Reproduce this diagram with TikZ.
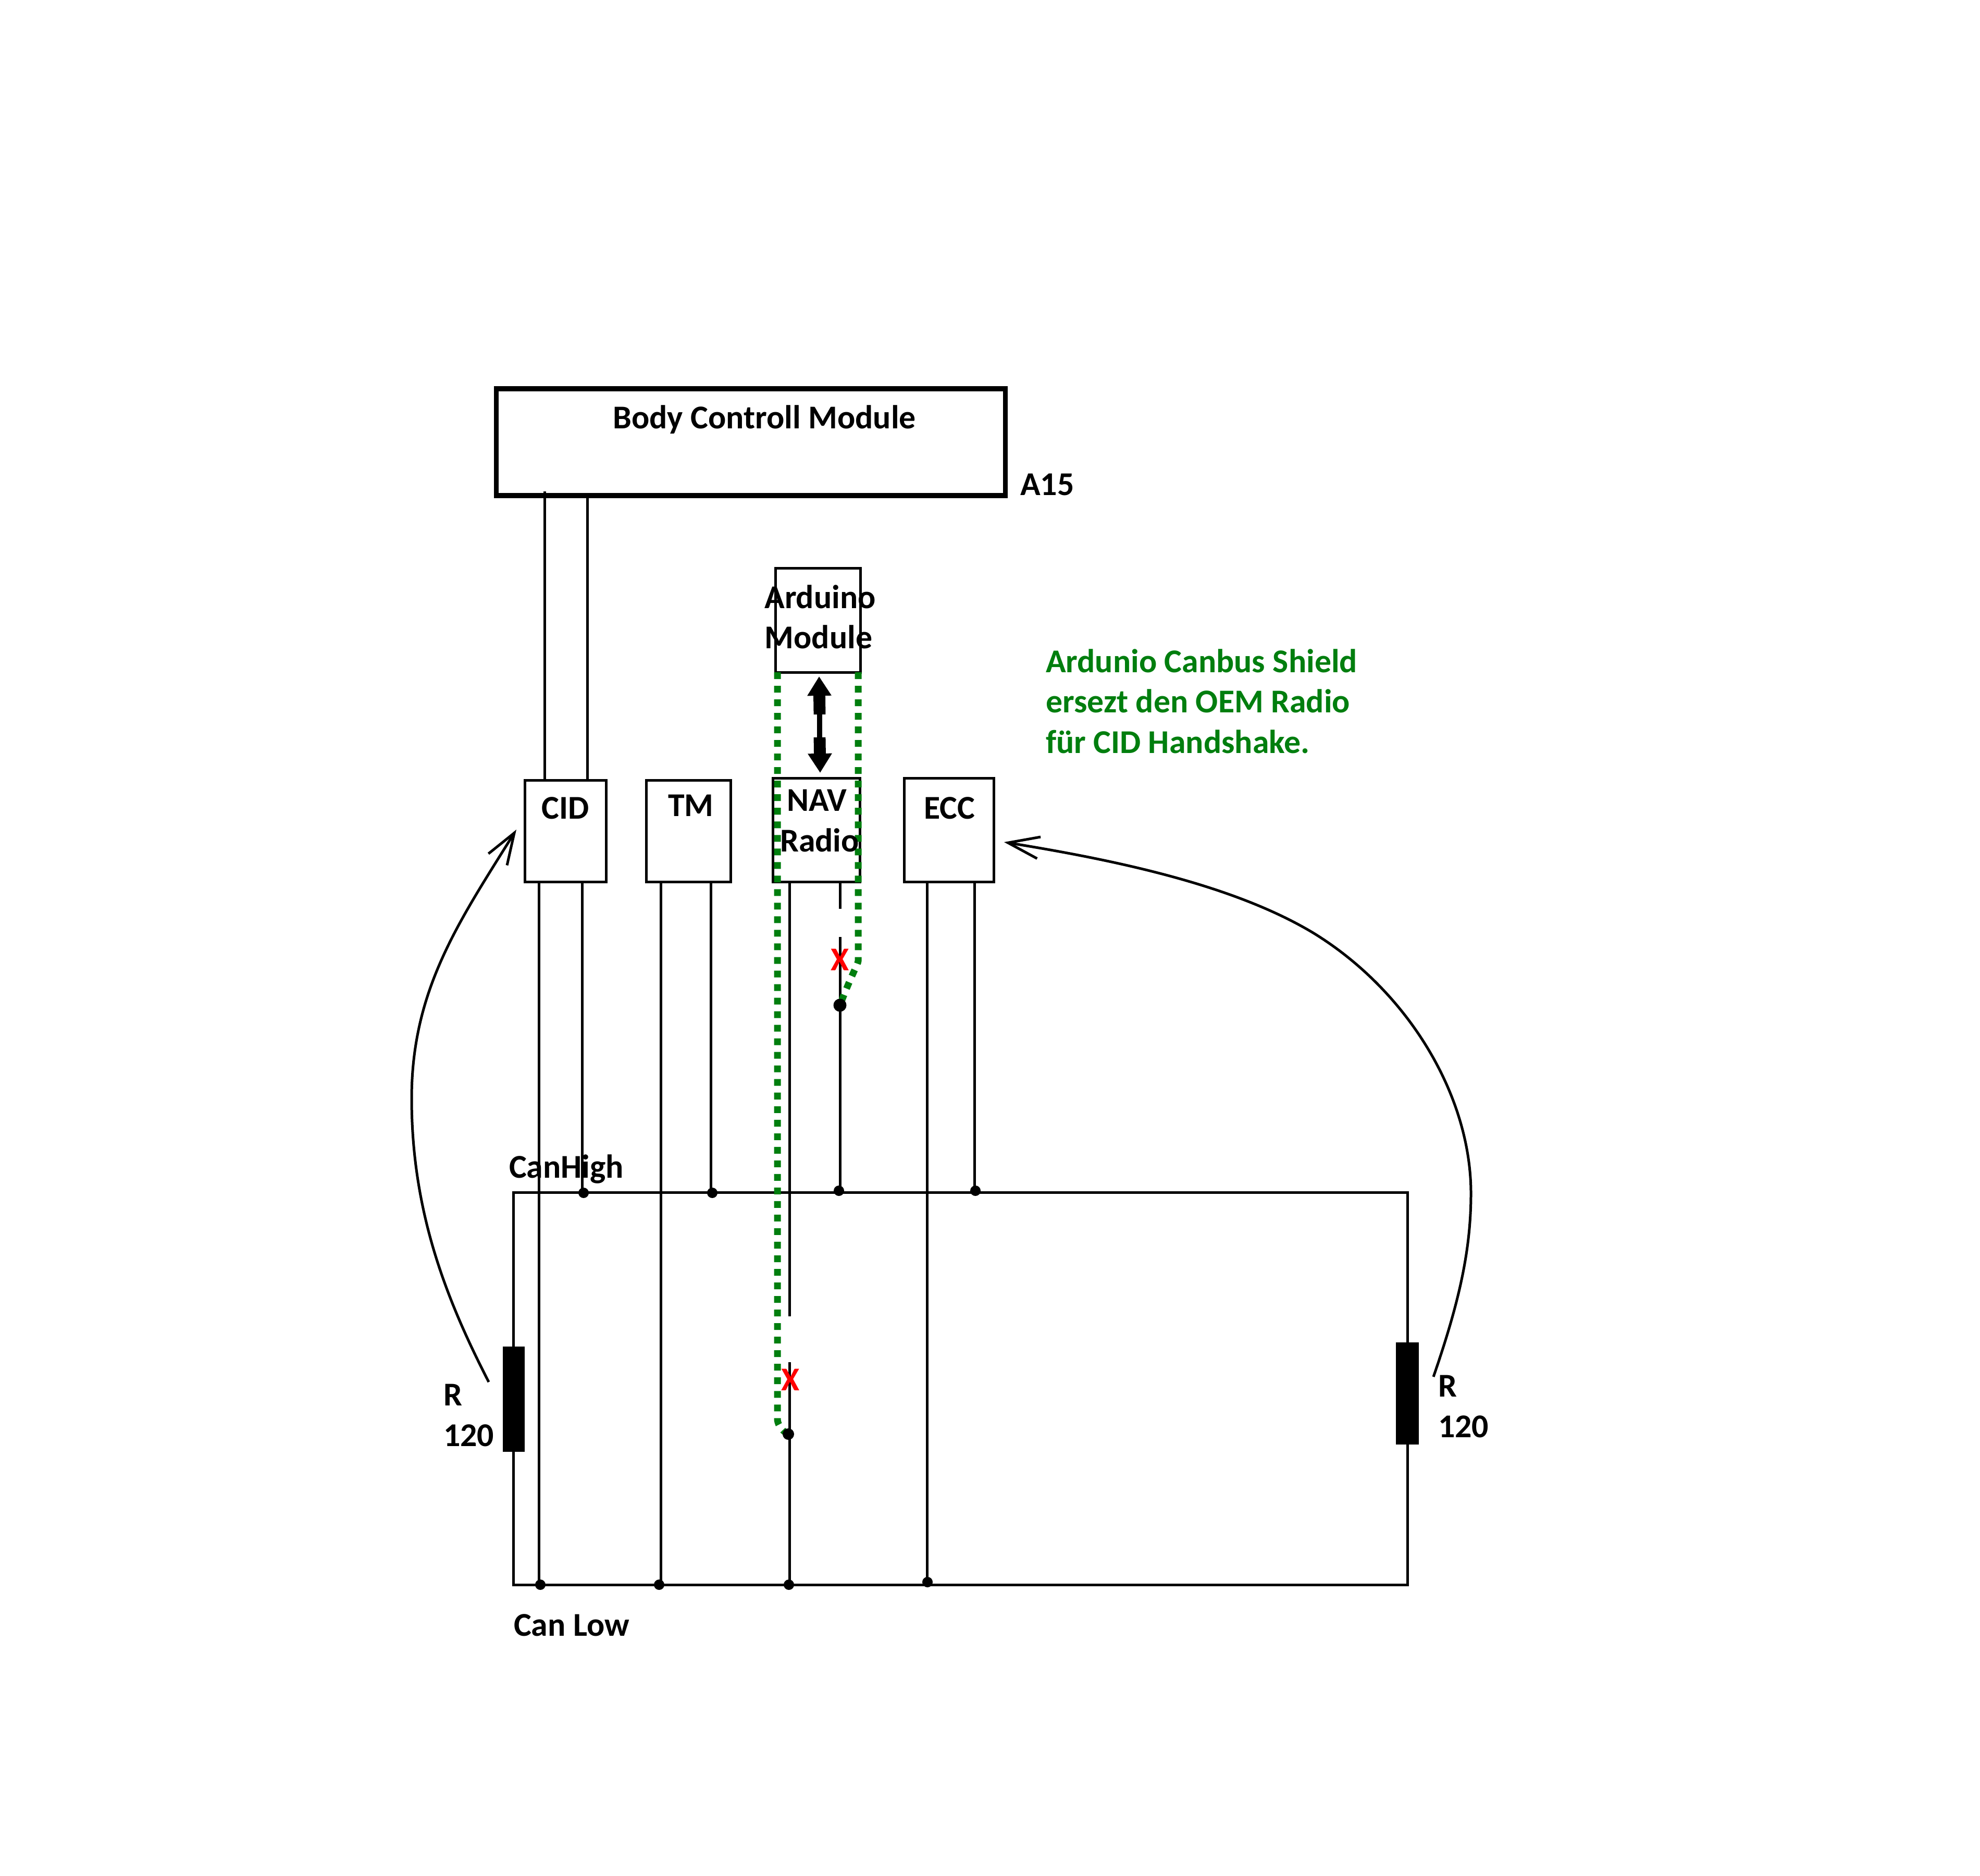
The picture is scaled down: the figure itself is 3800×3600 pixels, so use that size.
\documentclass[tikz,border=0pt]{standalone}
\usepackage{fontspec}
\setmainfont{Carlito}
\usetikzlibrary{arrows.meta}

\definecolor{shieldgreen}{RGB}{0,126,14}
\tikzset{
  wire/.style={line width=1.42pt},
  modbox/.style={draw, line width=1.42pt, inner sep=0pt, outer sep=0pt},
  dot/.style={circle, fill=black, inner sep=0pt, outer sep=0pt, minimum size=0.2cm},
  bigdot/.style={circle, fill=black, inner sep=0pt, outer sep=0pt, minimum size=0.25cm},
  resistor/.style={fill=black, inner sep=0pt, outer sep=0pt},
  txt/.style={inner sep=0pt, outer sep=0pt, font=\fontsize{18.15}{22}\selectfont\bfseries, anchor=base},
  txtl/.style={txt, anchor=base west},
  redx/.style={txt, text=red},
  shield/.style={draw=shieldgreen, line width=3.7pt, dash pattern=on 3.7pt off 3.7pt},
  curvearrow/.style={line width=1.42pt, -{Straight Barb[length=6mm, width=4.2mm, line width=1.42pt]}},
  fat/.style={line width=6.5pt, -{Triangle[length=3.7mm, width=4.4mm]}}
}

\begin{document}
\begin{tikzpicture}[x=0.01cm, y=-0.01cm]
  \useasboundingbox (0,0) rectangle (3800,3600);
  \node[modbox, line width=2.6pt, minimum width=9.76cm, minimum height=2.05cm] (bcm) at (1441,848.5) {};
  \node[modbox, minimum width=1.62cm, minimum height=1.99cm] (arduino) at (1570,1190.5) {};
  \node[modbox, minimum width=1.55cm, minimum height=1.94cm] (cid) at (1085.5,1595) {};
  \node[modbox, minimum width=1.61cm, minimum height=1.94cm] (tm) at (1321.5,1595) {};
  \node[modbox, minimum width=1.66cm, minimum height=1.98cm] (nav) at (1567,1593) {};
  \node[modbox, minimum width=1.71cm, minimum height=1.98cm] (ecc) at (1821.5,1593) {};
  \node[modbox, minimum width=17.15cm, minimum height=7.52cm] (bus) at (1843.5,2665) {};
  \node[resistor, minimum width=0.42cm, minimum height=2.01cm] (rleft) at (986,2685) {};
  \node[resistor, minimum width=0.44cm, minimum height=1.96cm] (rright) at (2701,2674) {};

  \node[dot] (hcid) at (1120,2289) {};
  \node[dot] (htm) at (1367,2289) {};
  \node[dot] (hnav) at (1610,2285) {};
  \node[dot] (hecc) at (1872,2285) {};
  \node[dot] (lcid) at (1037,3041) {};
  \node[dot] (ltm) at (1265,3041) {};
  \node[dot] (lnav) at (1514,3041) {};
  \node[dot] (lecc) at (1780,3036) {};

  \coordinate (bcma) at (1045,943);
  \coordinate (bcmb) at (1127,950);
  \coordinate (cidl) at (1034,1690);
  \coordinate (cidh) at (1117,1692);
  \coordinate (tml) at (1268,1692);
  \coordinate (tmh) at (1364,1692);
  \coordinate (navl) at (1515,1690);
  \coordinate (navlcut) at (1515,2526);
  \coordinate (navlend) at (1515,2614);
  \coordinate (navh) at (1612,1692);
  \coordinate (navhcut) at (1612,1744);
  \coordinate (navhend) at (1612,1798);
  \coordinate (eccl) at (1779,1690);
  \coordinate (ecch) at (1870,1692);
  \draw[wire] (bcma) -- (bcma |- cid.north)
  (bcmb) -- (bcmb |- cid.north)
  (cidl) -- (cidl |- lcid)
  (cidh) -- (cidh |- hcid)
  (tml) -- (tml |- ltm)
  (tmh) -- (tmh |- htm)
  (navl) -- (navlcut)
  (navlend) -- (navlend |- lnav)
  (navh) -- (navhcut)
  (navhend) -- (navhend |- hnav)
  (eccl) -- (eccl |- lecc)
  (ecch) -- (ecch |- hecc);

  \coordinate (shielda) at (1492,1290);
  \coordinate (shieldb) at (1647,1290);
  \coordinate (tapaend) at (1612,1929);
  \coordinate (tapbend) at (1513,2752);
  \draw[shield] (shielda) -- (1492,2723) .. controls (1492,2730) and (1497,2744) .. (tapbend);
  \draw[shield] (shieldb) -- (1647,1844) .. controls (1646,1852) and (1636,1866) .. (tapaend);

  \node[bigdot] (tapa) at (tapaend) {};
  \node[dot, minimum size=0.22cm] (tapb) at (tapbend) {};

  \coordinate (arrowtop) at (1572,1298);
  \coordinate (arrowbot) at (1574,1483);
  \coordinate (arrowa) at (1573,1371);
  \coordinate (arrowb) at (1573,1415);
  \draw[fat] (arrowa) -- (arrowtop);
  \draw[fat] (arrowb) -- (arrowbot);
  \draw[line width=3.1pt] (arrowa) -- (arrowb);

  \coordinate (curveastart) at (938,2652);
  \coordinate (curveaend) at (991,1592);
  \coordinate (curvebstart) at (2751,2642);
  \coordinate (curvebend) at (1927,1616);
  \draw[curvearrow] (curveastart) .. controls (860,2500) and (790,2330) .. (790,2108)
  .. controls (790,1900) and (880,1770) .. (curveaend);
  \draw[curvearrow] (curvebstart) .. controls (2800,2500) and (2823,2400) .. (2823,2290)
  .. controls (2823,2100) and (2700,1900) .. (2520,1790)
  .. controls (2370,1700) and (2150,1652) .. (curvebend);

  \node[txt] (bcmtext) at (1467,822) {Body Controll Module};
  \node[txtl] (a15) at (1958,950) {A15};
  \node[txt] (arduinoa) at (1574,1167) {Arduino};
  \node[txt] (arduinob) at (1571,1244) {Module};
  \node[txt] (navtext) at (1568,1556) {NAV};
  \node[txt] (radiotext) at (1573,1634) {Radio};
  \node[txt] (cidtext) at (1085,1571) {CID};
  \node[txt] (tmtext) at (1326,1566) {TM};
  \node[txt] (ecctext) at (1822,1571) {ECC};
  \node[txtl, text=shieldgreen] (greena) at (2007,1290) {Ardunio Canbus Shield};
  \node[txtl, text=shieldgreen] (greenb) at (2007,1367) {ersezt den OEM Radio};
  \node[txtl, text=shieldgreen] (greenc) at (2007,1445) {für CID Handshake.};
  \node[txtl] (canhigh) at (977,2260) {CanHigh};
  \node[txtl] (canlow) at (986,3139) {Can Low};
  \node[txtl] (ra) at (851,2697) {R};
  \node[txtl] (rb) at (851,2775) {120};
  \node[txtl] (rc) at (2760,2680) {R};
  \node[txtl] (rd) at (2760,2758) {120};
  \node[redx] (xa) at (1612,1862) {X};
  \node[redx] (xb) at (1517,2668) {X};
\end{tikzpicture}
\end{document}
